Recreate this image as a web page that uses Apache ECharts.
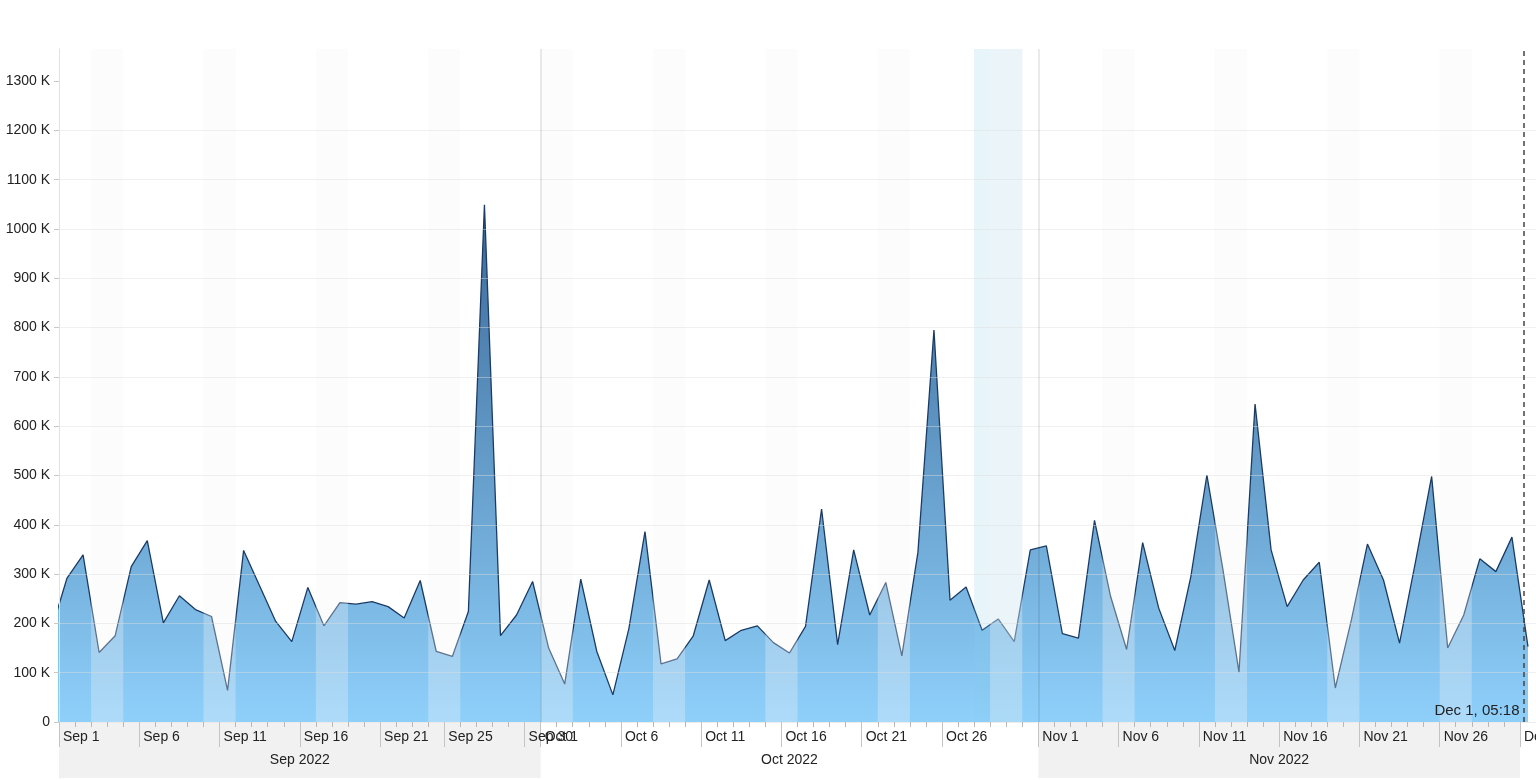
<!DOCTYPE html>
<html>
<head>
<meta charset="utf-8">
<script src="https://cdn.jsdelivr.net/npm/echarts@6/dist/echarts.min.js"></script>
<style>
html,body{margin:0;padding:0;background:#fff;}
#chart{width:1536px;height:780px;}
</style>
</head>
<body>
<div id="chart"></div>
<script>
// ---- data (daily values, read at 12:00 of each day, in thousands) ----
const dates = [
 '2022-08-31',
 '2022-09-01','2022-09-02','2022-09-03','2022-09-04','2022-09-05','2022-09-06','2022-09-07','2022-09-08','2022-09-09','2022-09-10',
 '2022-09-11','2022-09-12','2022-09-13','2022-09-14','2022-09-15','2022-09-16','2022-09-17','2022-09-18','2022-09-19','2022-09-20',
 '2022-09-21','2022-09-22','2022-09-23','2022-09-24','2022-09-25','2022-09-26','2022-09-27','2022-09-28','2022-09-29','2022-09-30',
 '2022-10-01','2022-10-02','2022-10-03','2022-10-04','2022-10-05','2022-10-06','2022-10-07','2022-10-08','2022-10-09','2022-10-10',
 '2022-10-11','2022-10-12','2022-10-13','2022-10-14','2022-10-15','2022-10-16','2022-10-17','2022-10-18','2022-10-19','2022-10-20',
 '2022-10-21','2022-10-22','2022-10-23','2022-10-24','2022-10-25','2022-10-26','2022-10-27','2022-10-28','2022-10-29','2022-10-30','2022-10-31',
 '2022-11-01','2022-11-02','2022-11-03','2022-11-04','2022-11-05','2022-11-06','2022-11-07','2022-11-08','2022-11-09','2022-11-10',
 '2022-11-11','2022-11-12','2022-11-13','2022-11-14','2022-11-15','2022-11-16','2022-11-17','2022-11-18','2022-11-19','2022-11-20',
 '2022-11-21','2022-11-22','2022-11-23','2022-11-24','2022-11-25','2022-11-26','2022-11-27','2022-11-28','2022-11-29','2022-11-30',
 '2022-12-01'
];
const valuesK = [
 184,
 292,339,141,175,315,368,201,256,228,214,
 64,348,276,204,163,273,195,242,239,244,
 234,211,287,143,133,224,1049,175,217,285,
 150,77,290,143,55,190,386,118,128,174,
 288,165,186,195,161,140,194,432,157,349,
 217,283,134,344,795,247,274,186,209,163,349,
 357,179,170,409,255,147,364,231,145,295,
 501,309,101,645,349,234,288,324,69,207,
 361,288,160,326,498,150,217,331,305,375,
 153
];
const axisStart = '2022-09-01';
const axisEnd = '2022-12-02';
const tickLabelDates = ['2022-09-01','2022-09-06','2022-09-11','2022-09-16','2022-09-21','2022-09-25','2022-09-30',
 '2022-10-01','2022-10-06','2022-10-11','2022-10-16','2022-10-21','2022-10-26',
 '2022-11-01','2022-11-06','2022-11-11','2022-11-16','2022-11-21','2022-11-26','2022-12-01'];
const monthBands = [
 {name:'Sep 2022', from:'2022-09-01', to:'2022-10-01', shaded:true},
 {name:'Oct 2022', from:'2022-10-01', to:'2022-11-01', shaded:false},
 {name:'Nov 2022', from:'2022-11-01', to:'2022-12-01', shaded:true}
];
const weekends = [
 ['2022-09-03','2022-09-05'],['2022-09-10','2022-09-12'],['2022-09-17','2022-09-19'],['2022-09-24','2022-09-26'],
 ['2022-10-01','2022-10-03'],['2022-10-08','2022-10-10'],['2022-10-15','2022-10-17'],['2022-10-22','2022-10-24'],['2022-10-29','2022-10-31'],
 ['2022-11-05','2022-11-07'],['2022-11-12','2022-11-14'],['2022-11-19','2022-11-21'],['2022-11-26','2022-11-28']
];
const highlightRange = ['2022-10-28','2022-10-31'];
const monthSeparators = ['2022-10-01','2022-11-01'];
const nowMarker = {time:'2022-12-01T05:18:00Z', label:'Dec 1, 05:18'};
const yTicksK = [0,100,200,300,400,500,600,700,800,900,1000,1100,1200,1300];
const yMaxK = 1365;

// ---- helpers ----
const MON = ['Jan','Feb','Mar','Apr','May','Jun','Jul','Aug','Sep','Oct','Nov','Dec'];
function ts(s){ return s.length===10 ? Date.parse(s+'T00:00:00Z') : Date.parse(s); }
const DAY = 86400000;
const xMin = ts(axisStart), xMax = ts(axisEnd);
const seriesData = dates.map((d,i)=>[ts(d)+DAY/2, valuesK[i]*1000]);
const dailyTicks = [];
for(let t=xMin+DAY; t<xMax; t+=DAY) dailyTicks.push(t);
const labelTicks = tickLabelDates.map(ts);
const FONT = "'Liberation Sans', Arial, Helvetica, sans-serif";

const chart = echarts.init(document.getElementById('chart'), null, {renderer:'canvas'});
const option = {
  animation:false,
  backgroundColor:'#ffffff',
  textStyle:{fontFamily:FONT},
  grid:[
    {left:59, right:0, top:49, bottom:58, containLabel:false, outerBoundsMode:'none'},
    {left:59, right:0, top:722, height:56, containLabel:false, outerBoundsMode:'none'}
  ],
  xAxis:[
    {type:'value', gridIndex:0, min:xMin, max:xMax, z:10,
     axisLine:{show:true, lineStyle:{color:'rgba(235,235,235,0.8)', width:1}},
     axisTick:{show:true, customValues:dailyTicks, length:5, lineStyle:{color:'#b8b8b8'}},
     axisLabel:{show:false}, splitLine:{show:false}},
    {type:'value', gridIndex:0, min:xMin, max:xMax, z:10, position:'bottom',
     axisLine:{show:false},
     axisTick:{show:true, customValues:labelTicks, length:25, lineStyle:{color:'#c4c4c4'}},
     axisLabel:{show:true, customValues:labelTicks, align:'left', margin:8, padding:[0,0,0,4],
       fontSize:14, color:'#222', fontFamily:FONT,
       formatter:function(v){ const d=new Date(v); return MON[d.getUTCMonth()]+' '+d.getUTCDate(); }},
     splitLine:{show:false}},
    {type:'value', gridIndex:1, min:xMin, max:xMax, show:false}
  ],
  yAxis:[
    {type:'value', gridIndex:0, min:0, max:yMaxK*1000, interval:100000, z:4,
     axisLine:{show:true, lineStyle:{color:'#e2e2e2'}},
     axisTick:{show:true, length:5, customValues:yTicksK.map(v=>v*1000), lineStyle:{color:'#c8c8c8'}},
     axisLabel:{customValues:yTicksK.map(v=>v*1000), fontSize:14, color:'#222', margin:9, fontFamily:FONT,
       formatter:function(v){ return v===0 ? '0' : (v/1000)+' K'; }},
     splitLine:{show:true, showMaxLine:false, lineStyle:{color:'rgba(222,222,222,0.45)', width:1}}},
    {type:'value', gridIndex:1, min:0, max:1,
     axisLine:{show:true, lineStyle:{color:'#d8d8d8'}},
     axisTick:{show:false}, axisLabel:{show:false}, splitLine:{show:false}}
  ],
  series:[
    {type:'line', name:'value', xAxisIndex:0, yAxisIndex:0, z:2,
     data:seriesData, showSymbol:false, smooth:false, clip:true,
     lineStyle:{color:'#1b3b64', width:1.3},
     areaStyle:{opacity:1, color:new echarts.graphic.LinearGradient(0,0,0,1,[
        {offset:0, color:'#3a6898'},{offset:1, color:'#8fd0fb'}])}
    },
    {type:'line', name:'overlay', xAxisIndex:0, yAxisIndex:0, z:3, data:[], silent:true,
     markArea:{silent:true, z:3, data:
       [[{xAxis:ts(highlightRange[0]), itemStyle:{color:'rgba(135,206,235,0.2)'}},{xAxis:ts(highlightRange[1])}]]
       .concat(weekends.map(w=>[{xAxis:ts(w[0]), itemStyle:{color:'rgba(244,244,244,0.3)'}},{xAxis:ts(w[1])}]))
     },
     markLine:{silent:true, symbol:['none','none'], label:{show:false},
       data: monthSeparators.map(m=>({xAxis:ts(m), lineStyle:{color:'rgba(0,0,0,0.11)', width:1.5, type:'solid'}}))
         .concat([{xAxis:ts(nowMarker.time), lineStyle:{color:'#444', width:1.5, type:[5,4]}}])
     },
     markPoint:{silent:true, symbol:'circle', symbolSize:0,
       data:[{coord:[ts(nowMarker.time),0], label:{show:true, position:'left', distance:4, offset:[0,-11],
         formatter:nowMarker.label, fontSize:15, color:'#222', fontFamily:FONT}}]}
    },
    {type:'line', name:'months', xAxisIndex:2, yAxisIndex:1, z:0, data:[], silent:true,
     markArea:{silent:true, data: monthBands.map(b=>[
       {xAxis:ts(b.from), name:b.name, itemStyle:{color: b.shaded ? '#f1f1f1' : 'rgba(255,255,255,0)'},
        label:{show:true, position:'insideBottom', distance:11, fontSize:14, color:'#222', fontFamily:FONT}},
       {xAxis:ts(b.to)}])}
    }
  ]
};
chart.setOption(option);
</script>
</body>
</html>
